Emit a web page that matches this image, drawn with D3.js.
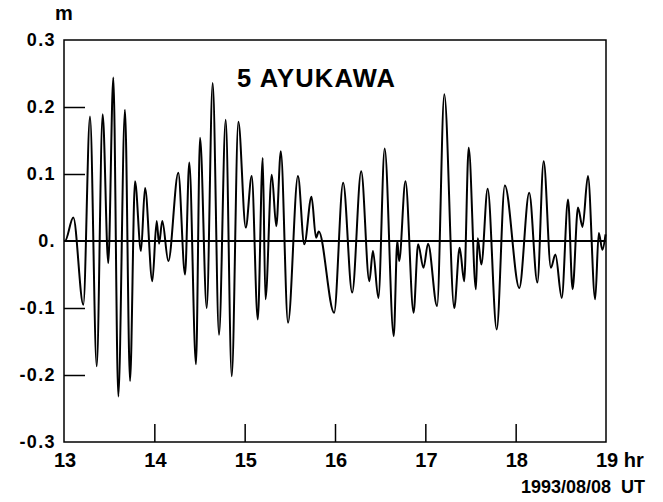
<!DOCTYPE html>
<html>
<head>
<meta charset="utf-8">
<script src="https://cdn.jsdelivr.net/npm/d3@7"></script>
<style>
  html, body { margin: 0; padding: 0; background: #fff; }
  svg { display: block; }
  text { font-family: "Liberation Sans", Arial, Helvetica, sans-serif; font-weight: bold; fill: #000; }
</style>
</head>
<body>
<script>
// ---- data (hours UT, sea level in m) ----
const times = [13.0, 13.011, 13.103, 13.214, 13.288, 13.362, 13.428, 13.490, 13.546, 13.601, 13.675, 13.731,
  13.786, 13.852, 13.897, 13.978, 14.026, 14.052, 14.088, 14.155, 14.265, 14.340, 14.387, 14.461,
  14.506, 14.580, 14.646, 14.716, 14.790, 14.857, 14.930, 15.012, 15.078, 15.145, 15.200,
  15.23, 15.30, 15.35, 15.40, 15.48, 15.59, 15.66, 15.74, 15.79, 15.82, 15.99, 16.09, 16.19, 16.29,
  16.38, 16.42, 16.48, 16.55, 16.65, 16.69, 16.71, 16.78, 16.87, 16.92, 16.98, 17.03, 17.13, 17.21,
  17.32, 17.38, 17.43, 17.48, 17.56, 17.58, 17.62, 17.69, 17.79, 17.88, 18.04, 18.15, 18.24, 18.31,
  18.39, 18.44, 18.51, 18.58, 18.63, 18.69, 18.74, 18.80, 18.88, 18.92, 18.96, 18.995];
const levels = [0.0, 0.0, 0.035, -0.095, 0.186, -0.187, 0.189, -0.033, 0.244, -0.232, 0.196, -0.209,
  0.089, -0.015, 0.079, -0.060, 0.030, -0.004, 0.030, -0.030, 0.102, -0.050, 0.117, -0.184,
  0.154, -0.100, 0.236, -0.140, 0.181, -0.202, 0.178, 0.020, 0.097, -0.117, 0.124,
  -0.087, 0.099, 0.022, 0.134, -0.122, 0.097, -0.005, 0.066, 0.005, 0.014, -0.107, 0.087, -0.077, 0.104,
  -0.060, -0.015, -0.085, 0.138, -0.142, 0.000, -0.030, 0.089, -0.107, -0.005, -0.040, -0.004, -0.097, 0.219,
  -0.100, -0.010, -0.060, 0.139, -0.072, 0.004, -0.035, 0.078, -0.132, 0.083, -0.070, 0.072, -0.062, 0.119,
  -0.040, -0.020, -0.085, 0.062, -0.072, 0.050, 0.021, 0.097, -0.087, 0.012, -0.013, 0.010];
const xTicks = [13, 14, 15, 16, 17, 18, 19];
const xTickLabels = ["13", "14", "15", "16", "17", "18", "19 hr"];
const yTicks = [0.3, 0.2, 0.1, 0, -0.1, -0.2, -0.3];
const yTickLabels = ["0.3", "0.2", "0.1", "0.", "-0.1", "-0.2", "-0.3"];
const title = "5 AYUKAWA";
const unitLabel = "m";
const dateLabel = "1993/08/08\u00a0\u00a0UT";

// ---- layout ----
const W = 663, H = 502;
const L = 64, R = 606, T = 40, B = 442;

const svg = d3.select("body").append("svg").attr("width", W).attr("height", H);

const x = d3.scaleLinear().domain([13, 19]).range([L, R]);
const y = d3.scaleLinear().domain([-0.3, 0.3]).range([B, T]);

// frame
svg.append("rect").attr("x", L).attr("y", T).attr("width", R - L).attr("height", B - T)
  .attr("fill", "none").attr("stroke", "#000").attr("stroke-width", 1.5);

// y ticks (inward)
svg.append("g").attr("transform", `translate(${L},0)`)
  .call(d3.axisRight(y).tickValues(yTicks.filter(v => v !== 0 && Math.abs(v) < 0.3)).tickSize(21).tickFormat(""))
  .call(g => g.select(".domain").remove())
  .call(g => g.selectAll("line").attr("stroke", "#000").attr("stroke-width", 1.5));

// x ticks (inward)
svg.append("g").attr("transform", `translate(0,${B})`)
  .call(d3.axisTop(x).tickValues(xTicks.filter(v => v > 13 && v < 19)).tickSize(18).tickFormat(""))
  .call(g => g.select(".domain").remove())
  .call(g => g.selectAll("line").attr("stroke", "#000").attr("stroke-width", 1.5));

// y labels
svg.append("g").selectAll("text").data(yTicks).join("text")
  .attr("x", 56).attr("y", d => y(d)).attr("dy", "0.36em")
  .attr("text-anchor", "end").attr("font-size", 18).attr("letter-spacing", "1.4px")
  .text((d, i) => yTickLabels[i]);

// x labels
svg.append("g").selectAll("text").data(xTicks).join("text")
  .attr("x", d => x(d) - 10).attr("y", 467)
  .attr("text-anchor", "start").attr("font-size", 20)
  .text((d, i) => xTickLabels[i]);

// zero line
svg.append("line").attr("x1", L).attr("x2", R).attr("y1", y(0)).attr("y2", y(0))
  .attr("stroke", "#000").attr("stroke-width", 2);

// waveform
const line = d3.line().x((d, i) => x(times[i])).y(d => y(d)).curve(d3.curveMonotoneX);
svg.append("path").attr("d", line(levels)).attr("fill", "none")
  .attr("stroke", "#000").attr("stroke-width", 2);

// texts
svg.append("text").attr("x", 237).attr("y", 87).attr("font-size", 25.5).attr("letter-spacing", "1.2px").text(title);
svg.append("text").attr("x", 64).attr("y", 20).attr("text-anchor", "middle").attr("font-size", 20).text(unitLabel);
svg.append("text").attr("x", 645).attr("y", 493).attr("text-anchor", "end").attr("font-size", 18).text(dateLabel);
</script>
</body>
</html>
